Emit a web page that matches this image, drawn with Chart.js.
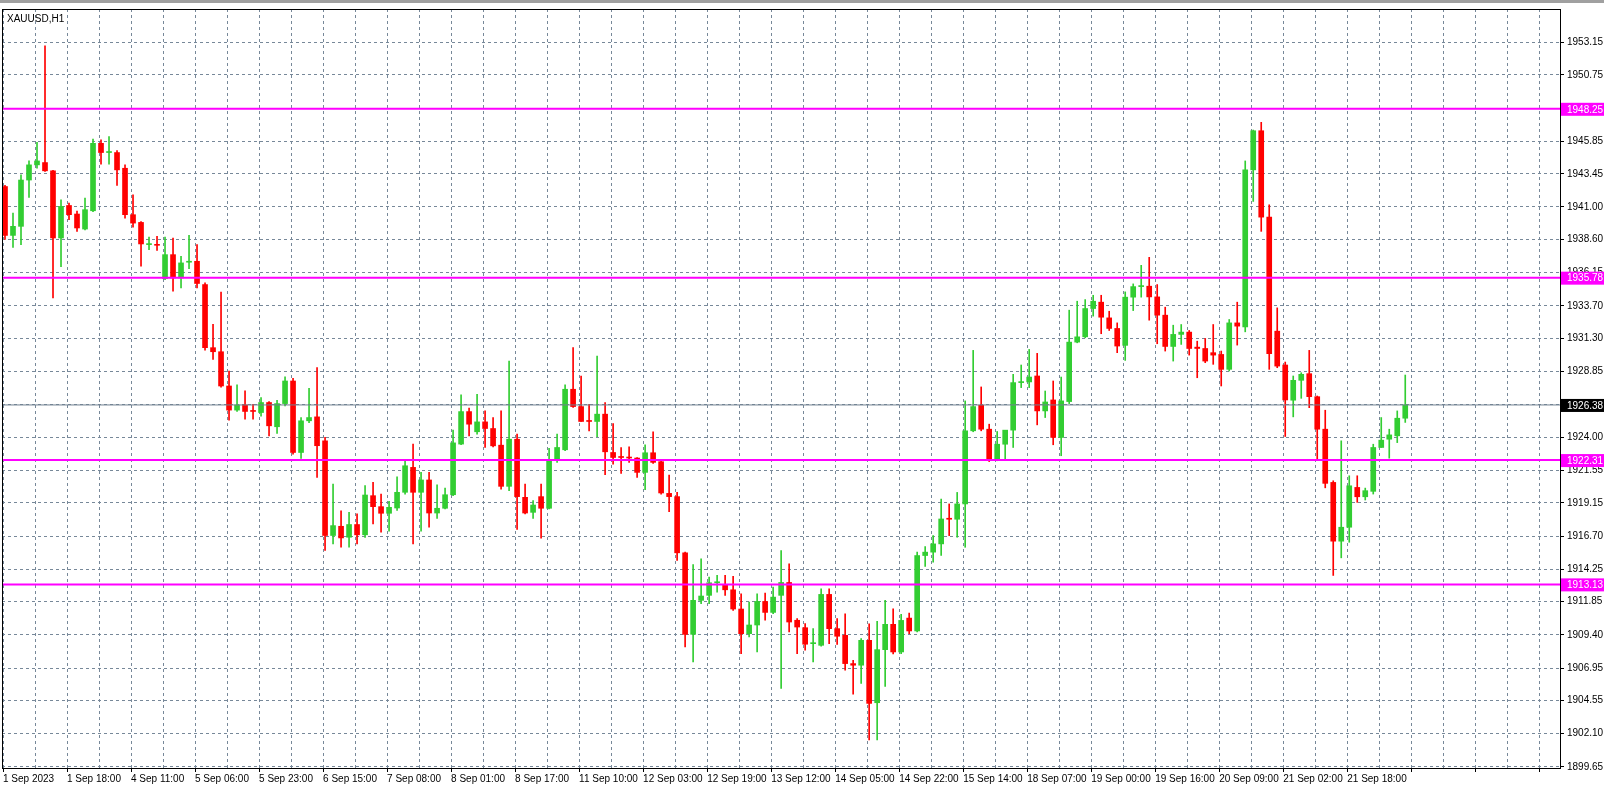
<!DOCTYPE html>
<html lang="en">
<head>
  <meta charset="UTF-8">
  <title>XAUUSD,H1</title>
  <style>
    html, body { margin: 0; padding: 0; background: #ffffff; }
    .chart-box { position: relative; width: 1604px; height: 787px; }
  </style>
</head>
<body>
  <div class="chart-box">
    <canvas id="candles" width="1604" height="787"></canvas>
  </div>

  <script src="https://cdn.jsdelivr.net/npm/chart.js"></script>
  <script>
    // Candles, two hourly bars per entry
    const opens = [
      1942.51,1938.90,1939.57,1942.99,1944.11,1944.28,1943.67,1938.71,1941.11,1940.48,
      1939.37,1940.72,1945.70,1945.02,1945.02,1943.86,1940.43,1939.86,1938.22,1938.22,
      1935.71,1937.48,1935.76,1936.92,1936.99,1935.27,1930.61,1930.31,1927.78,1926.00,
      1926.38,1925.95,1925.82,1926.56,1924.77,1926.48,1928.15,1922.87,1925.21,1925.50,
      1923.73,1916.74,1917.42,1916.61,1917.55,1916.79,1919.68,1918.87,1918.38,1918.77,
      1919.93,
      1921.77,1919.93,1920.84,1918.40,1918.75,1919.75,1923.49,1925.89,1924.40,1925.13,
      1924.64,1923.41,1920.37,1923.85,1919.56,1918.45,1919.61,1918.75,1922.31,1923.07,
      1927.54,1926.26,1925.21,1925.16,1925.70,1922.87,1922.55,1922.50,1922.46,1921.40,
      1922.85,1922.19,1919.85,1919.61,1915.46,1909.44,1911.95,1912.32,1913.25,1913.06,
      1912.73,1911.31,1909.49,1910.13,1911.87,1911.06,1912.32,1913.27,1910.48,1909.93,
      1908.75,1908.63,1912.39,1909.86,1909.37,1907.28,1907.16,1909.00,1904.39,1908.31,
      1910.18,1908.14,1910.64,1909.69,1915.26,1915.51,1916.12,1917.96,1917.94,1919.07,
      1924.47,1926.36,1924.59,1922.31,1923.48,1924.52,1928.03,1928.08,1928.52,1925.94,
      1926.75,1923.98,1926.63,1931.02,1931.41,1933.50,1933.97,1932.81,1932.03,1930.78,
      1934.34,1935.12,1935.15,1934.36,1933.01,1930.70,1931.59,1931.76,1930.65,1930.55,
      1930.24,1930.11,1929.01,1932.44,1932.15,1943.74,1946.63,1940.25,1931.83,1929.33,
      1926.73,1928.20,1928.69,1926.99,1924.59,1920.66,1916.32,1917.35,1920.29,1919.60,
      1920.00,1923.24,1923.85,1924.10,1925.40
    ];
    const highs = [
      1942.60,1940.55,1943.37,1944.40,1945.78,1952.90,1943.70,1941.53,1941.29,1940.70,
      1941.66,1946.02,1945.95,1946.20,1945.17,1944.11,1941.90,1939.93,1938.78,1938.83,
      1938.78,1938.71,1937.36,1938.90,1938.22,1935.40,1932.33,1934.71,1928.89,1927.86,
      1927.42,1926.43,1926.93,1926.63,1926.72,1928.45,1928.35,1925.45,1927.60,1929.14,
      1923.98,1920.54,1918.57,1918.45,1918.34,1920.42,1920.66,1919.80,1919.27,1921.08,
      1922.26,
      1923.49,1921.40,1921.40,1920.49,1920.25,1924.52,1927.12,1926.14,1927.17,1925.94,
      1925.45,1925.94,1929.62,1924.22,1920.54,1919.31,1920.54,1923.17,1924.22,1927.86,
      1930.61,1928.52,1926.43,1929.99,1926.56,1925.00,1923.24,1923.29,1922.50,1923.44,
      1924.40,1922.26,1921.20,1919.93,1915.51,1914.60,1915.02,1913.67,1913.79,1913.79,
      1913.72,1912.44,1911.82,1912.44,1912.49,1912.93,1915.63,1914.65,1910.60,1910.23,
      1909.86,1912.80,1912.80,1910.60,1910.96,1907.52,1909.12,1910.22,1910.40,1911.95,
      1911.33,1910.91,1911.01,1915.51,1915.92,1916.73,1919.43,1919.07,1919.92,1926.68,
      1930.41,1927.71,1924.96,1924.42,1924.03,1928.64,1929.33,1930.48,1930.19,1927.41,
      1928.15,1928.44,1933.38,1934.04,1934.16,1934.48,1934.48,1933.30,1932.44,1934.73,
      1935.32,1936.69,1937.28,1935.27,1933.60,1932.27,1932.32,1931.88,1931.09,1931.29,
      1932.32,1930.36,1932.69,1933.97,1944.40,1946.68,1947.25,1941.16,1933.55,1929.55,
      1928.52,1928.76,1930.41,1927.04,1925.99,1920.78,1923.73,1921.15,1921.15,1920.24,
      1923.48,1925.45,1924.59,1925.94,1928.59
    ];
    const lows = [
      1938.60,1938.02,1938.22,1941.70,1943.87,1943.62,1934.29,1936.60,1940.06,1939.20,
      1939.30,1940.65,1944.16,1944.16,1942.59,1940.18,1939.50,1936.62,1937.85,1937.80,
      1935.64,1934.78,1935.03,1936.45,1935.03,1930.43,1929.75,1927.70,1925.26,1925.90,
      1925.33,1925.33,1925.56,1924.10,1924.27,1926.30,1922.75,1922.43,1925.08,1921.03,
      1915.63,1916.12,1915.88,1915.88,1916.12,1916.60,1917.60,1916.98,1917.06,1918.60,
      1919.80,
      1916.12,1917.05,1917.35,1918.00,1918.70,1919.68,1923.44,1924.10,1924.22,1923.24,
      1923.29,1920.17,1920.05,1917.18,1918.33,1918.01,1916.54,1918.70,1922.14,1923.00,
      1926.19,1925.16,1924.47,1924.03,1921.23,1922.01,1921.33,1922.14,1921.03,1920.12,
      1922.07,1919.80,1918.50,1914.89,1908.51,1907.41,1911.70,1911.70,1912.56,1912.32,
      1911.21,1908.02,1909.25,1908.14,1910.48,1910.97,1905.44,1909.62,1908.02,1908.27,
      1907.40,1908.56,1908.75,1908.70,1906.79,1905.02,1905.81,1901.64,1901.64,1905.60,
      1907.99,1908.02,1909.49,1909.62,1914.45,1914.77,1915.26,1916.73,1916.61,1915.87,
      1924.40,1924.47,1922.20,1922.26,1922.38,1923.24,1927.66,1927.66,1924.91,1925.45,
      1923.44,1922.63,1926.48,1930.97,1931.34,1932.94,1931.64,1931.88,1930.24,1929.67,
      1933.35,1934.34,1932.64,1930.90,1930.36,1929.62,1930.85,1930.06,1928.39,1929.50,
      1929.38,1927.78,1928.89,1930.80,1931.78,1941.41,1939.20,1929.01,1929.13,1924.05,
      1925.50,1926.87,1926.18,1922.38,1920.26,1913.79,1915.09,1916.24,1919.19,1919.36,
      1919.80,1923.24,1922.45,1923.60,1925.09
    ];
    const closes = [
      1938.90,1939.57,1942.99,1944.11,1944.40,1943.67,1938.71,1941.04,1940.43,1939.45,
      1940.80,1945.70,1945.02,1945.02,1943.74,1940.43,1939.81,1938.27,1938.22,1938.17,
      1937.48,1935.76,1936.87,1936.99,1935.35,1930.61,1930.31,1927.78,1926.00,1926.38,
      1925.90,1925.90,1926.56,1924.84,1926.48,1928.15,1922.87,1925.21,1925.45,1923.37,
      1916.74,1917.47,1916.56,1917.55,1916.79,1919.73,1918.87,1918.38,1918.82,1919.93,
      1921.89,
      1919.93,1920.84,1918.40,1918.75,1919.75,1923.58,1925.89,1924.96,1925.13,1924.64,
      1923.36,1920.37,1923.85,1919.61,1918.40,1918.99,1918.75,1922.31,1923.24,1927.54,
      1926.26,1925.16,1925.16,1925.70,1922.92,1922.50,1922.50,1922.46,1921.40,1922.85,
      1922.14,1919.88,1919.61,1915.46,1909.44,1911.95,1912.27,1913.25,1913.30,1912.73,
      1911.31,1909.49,1910.13,1911.87,1911.06,1912.19,1913.27,1910.35,1909.98,1908.71,
      1908.80,1912.39,1909.86,1909.30,1907.28,1907.16,1909.00,1904.34,1908.31,1910.18,
      1908.14,1910.47,1909.69,1915.26,1915.51,1916.12,1917.96,1917.94,1919.07,1924.47,
      1926.26,1924.59,1922.31,1923.48,1924.52,1928.03,1928.08,1928.44,1925.94,1926.60,
      1923.98,1926.68,1931.02,1931.41,1933.50,1934.04,1932.86,1932.03,1930.73,1934.34,
      1935.12,1935.15,1934.36,1933.01,1930.70,1931.59,1931.76,1930.55,1930.55,1929.62,
      1930.06,1929.01,1932.44,1932.20,1943.74,1946.63,1940.25,1930.16,1929.25,1926.75,
      1928.20,1928.64,1926.99,1924.59,1920.59,1916.32,1917.35,1920.41,1919.60,1920.05,
      1923.24,1923.78,1924.17,1925.40,1926.38
    ];

    // Axis texts
    const timeLabels = [
      '1 Sep 2023','1 Sep 18:00','4 Sep 11:00','5 Sep 06:00','5 Sep 23:00','6 Sep 15:00',
      '7 Sep 08:00','8 Sep 01:00','8 Sep 17:00','11 Sep 10:00','12 Sep 03:00','12 Sep 19:00',
      '13 Sep 12:00','14 Sep 05:00','14 Sep 22:00','15 Sep 14:00','18 Sep 07:00','19 Sep 00:00',
      '19 Sep 16:00','20 Sep 09:00','21 Sep 02:00','21 Sep 18:00'
    ];
    const priceTicks = [
      1953.15,1950.75,1948.30,1945.85,1943.45,1941.00,1938.60,1936.15,1933.70,1931.30,
      1928.85,1926.40,1924.00,1921.55,1919.15,1916.70,1914.25,1911.85,1909.40,1906.95,
      1904.55,1902.10,1899.65
    ];

    // Horizontal levels
    const levels = [1948.25, 1935.78, 1922.31, 1913.13];
    const lastPrice = 1926.38;

    const X_MIN = -0.375, X_MAX = 194.34;
    const GREEN = '#32cd32', RED = '#ff0000', MAGENTA = '#ff00ff';

    const idx = closes.map((c, i) => i);
    const colors = idx.map(i => closes[i] >= opens[i] ? GREEN : RED);

    const wickData = idx.map(i => ({ x: i, y: [lows[i], highs[i]] }));
    const bodyData = idx.map(i => ({ x: i, y: [opens[i], closes[i]] }));

    const levelSets = levels.map(v => ({
      type: 'line',
      data: [{ x: X_MIN, y: v }, { x: X_MAX, y: v }],
      borderColor: MAGENTA, borderWidth: 2, pointRadius: 0, order: 0
    }));

    // price boxes, frame and symbol caption
    const decorPlugin = {
      id: 'decor',
      beforeDraw(chart) {
        const ctx = chart.ctx;
        ctx.save();
        ctx.fillStyle = '#ffffff';
        ctx.fillRect(0, 0, chart.width, chart.height);
        ctx.fillStyle = '#a0a0a0';
        ctx.fillRect(0, 0, chart.width, 3);
        ctx.restore();
      },
      afterDraw(chart) {
        const ctx = chart.ctx, a = chart.chartArea, y = chart.scales.y;
        ctx.save();
        ctx.strokeStyle = '#000';
        ctx.lineWidth = 1;
        ctx.strokeRect(Math.round(a.left) + 0.5, Math.round(a.top) + 0.5,
          Math.round(a.right - a.left), Math.round(a.bottom - a.top));

        ctx.font = '10px "Liberation Sans"';
        ctx.textBaseline = 'middle';
        const box = (v, bg) => {
          const py = y.getPixelForValue(v);
          ctx.fillStyle = bg;
          ctx.fillRect(a.right + 1, py - 6, chart.width - a.right - 1, 13);
          ctx.fillStyle = '#ffffff';
          ctx.fillText(v.toFixed(2), a.right + 7, py + 1);
        };
        levels.forEach(v => box(v, MAGENTA));
        box(lastPrice, '#000000');

        ctx.fillStyle = '#000';
        ctx.font = '10px "Liberation Sans"';
        ctx.fillText('XAUUSD,H1', a.left + 5, a.top + 10);
        ctx.restore();
      }
    };

    new Chart(document.getElementById('candles'), {
      data: {
        datasets: [
          ...levelSets,
          {
            type: 'line',
            data: [{ x: X_MIN, y: lastPrice }, { x: X_MAX, y: lastPrice }],
            borderColor: '#708090', borderWidth: 1, pointRadius: 0, order: 0
          },
          {
            type: 'bar', data: wickData, backgroundColor: colors,
            barThickness: 1, grouped: false, order: 2
          },
          {
            type: 'bar', data: bodyData, backgroundColor: colors,
            barThickness: 5, grouped: false, minBarLength: 1, order: 1
          }
        ]
      },
      options: {
        responsive: false,
        animation: false,
        devicePixelRatio: 1,
        layout: { padding: { left: 2, top: 7, right: 0, bottom: 0 } },
        plugins: { legend: { display: false }, tooltip: { enabled: false } },
        scales: {
          x: {
            type: 'linear', min: X_MIN, max: X_MAX, offset: false,
            afterBuildTicks(s) {
              const t = [];
              for (let k = 0; k <= 48; k++) t.push({ value: -0.25 + 4 * k });
              s.ticks = t;
            },
            afterFit(s) { s.height = 19; },
            grid: {
              offset: false, color: '#778899', tickLength: 4, tickBorderDash: [],
              tickColor: c => (c.index % 2 === 0 ? '#000' : 'rgba(0,0,0,0)')
            },
            border: { display: false, dash: [3, 3] },
            ticks: {
              autoSkip: false, maxRotation: 0, align: 'start', padding: 1,
              color: '#000', font: { family: 'Liberation Sans', size: 10 },
              callback(v) {
                const k = Math.round((v + 0.25) / 4);
                return k % 2 === 0 ? (timeLabels[k / 2] || '') : '';
              }
            }
          },
          y: {
            position: 'right', min: 1899.57, max: 1955.62,
            afterBuildTicks(s) { s.ticks = priceTicks.map(v => ({ value: v })); },
            afterFit(s) { s.width = 44; },
            grid: { color: '#778899', tickLength: 4, tickBorderDash: [], tickColor: '#000' },
            border: { display: false, dash: [3, 3] },
            ticks: {
              autoSkip: false, padding: 3, color: '#000',
              font: { family: 'Liberation Sans', size: 10 },
              callback: v => v.toFixed(2)
            }
          }
        }
      },
      plugins: [decorPlugin]
    });
  </script>
</body>
</html>
